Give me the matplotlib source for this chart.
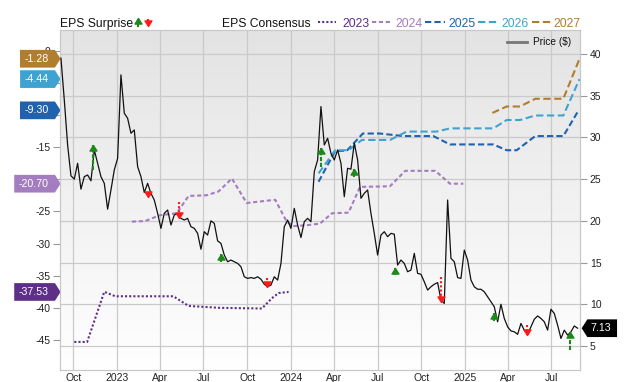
import numpy as np
import pandas as pd
import matplotlib
matplotlib.use('Agg')
import matplotlib.pyplot as plt
import matplotlib.dates as mdates
from matplotlib.path import Path
from matplotlib.lines import Line2D
from matplotlib.colors import LinearSegmentedColormap

plt.rcParams['font.family'] = ['Liberation Sans', 'DejaVu Sans']
plt.rcParams['axes.unicode_minus'] = False

# weekly close price ($)
price_start = '2022-09-05'
price = [39.5, 34.5, 29.1, 25.4, 25.0, 26.9, 23.8, 25.3, 25.5, 24.8,
         28.5, 26.9, 25.3, 24.5, 21.4, 23.7, 26.1, 27.5, 37.5, 32.9,
         32.3, 30.5, 30.9, 26.5, 25.3, 23.4, 24.5, 23.3, 22.5, 20.9,
         19.1, 20.9, 21.3, 19.5, 20.7, 20.9, 20.3, 20.1, 20.3, 19.3,
         19.1, 18.5, 16.6, 18.7, 18.3, 20.0, 19.7, 17.6, 17.3, 15.9,
         15.1, 15.3, 15.1, 14.9, 14.5, 13.3, 13.1, 13.2, 13.1, 13.3,
         13.0, 12.4, 12.1, 12.3, 13.3, 12.9, 14.9, 19.3, 20.1, 19.1,
         21.5, 19.5, 18.0, 19.9, 20.3, 19.9, 25.9, 27.3, 33.7, 29.1,
         29.9, 28.1, 27.3, 28.5, 26.9, 22.9, 26.3, 26.2, 29.3, 27.3,
         22.7, 23.3, 23.7, 20.9, 18.5, 15.9, 18.3, 18.7, 18.1, 18.5,
         18.4, 14.7, 15.3, 14.9, 13.9, 14.1, 16.1, 13.7, 13.6, 12.7,
         11.7, 12.1, 12.4, 12.6, 10.5, 10.1, 22.5, 15.5, 15.1, 13.2,
         13.1, 16.5, 15.3, 12.9, 12.1, 11.8, 11.8, 11.5, 10.9, 10.3,
         9.7, 7.9, 10.0, 8.3, 7.3, 6.8, 6.7, 6.4, 7.7, 6.9,
         6.4, 7.3, 8.2, 8.6, 8.3, 7.9, 6.9, 9.4, 8.9, 7.5,
         5.9, 6.9, 6.3, 6.7, 7.4, 7.13]
price_dates = pd.date_range(price_start, periods=len(price), freq='7D')

# EPS consensus by fiscal year
c2023_dates = ['2022-10-03', '2022-10-30', '2022-12-05', '2022-12-28', '2023-04-29', '2023-05-31',
               '2023-08-05', '2023-11-01', '2023-11-22', '2023-12-06', '2023-12-27']
c2023 = [-45.3, -45.3, -37.5, -38.2, -38.2, -39.7, -40.0, -40.1, -38.5, -37.7, -37.53]

c2024_dates = ['2023-02-01', '2023-03-01', '2023-04-01', '2023-05-06', '2023-05-31', '2023-07-08',
               '2023-08-02', '2023-08-30', '2023-09-30', '2023-11-29', '2023-12-23', '2024-01-06',
               '2024-02-10', '2024-03-02', '2024-03-27', '2024-05-01', '2024-05-25', '2024-07-27',
               '2024-08-28', '2024-10-30', '2024-11-30', '2024-12-28']
c2024 = [-26.6, -26.5, -25.6, -25.3, -22.6, -22.5, -21.9, -19.9, -23.7, -23.2, -26.6, -27.3,
         -27.1, -26.9, -25.3, -25.2, -21.2, -21.1, -18.7, -18.7, -20.70, -20.70]

c2025_dates = ['2024-02-28', '2024-04-03', '2024-04-27', '2024-05-31', '2024-07-06', '2024-08-24',
               '2024-10-26', '2024-11-30', '2025-03-01', '2025-03-29', '2025-04-19', '2025-05-28',
               '2025-07-26', '2025-08-27']
c2025 = [-20.4, -15.6, -15.6, -12.9, -12.9, -13.3, -13.3, -14.6, -14.6, -15.5, -15.5, -13.3,
         -13.3, -9.30]

c2026_dates = ['2024-02-28', '2024-04-03', '2024-05-01', '2024-05-29', '2024-07-27', '2024-08-31',
               '2024-11-02', '2024-11-30', '2025-03-01', '2025-03-29', '2025-04-26', '2025-05-28',
               '2025-07-26', '2025-08-29']
c2026 = [-19.1, -15.5, -15.5, -13.9, -13.9, -12.6, -12.6, -12.1, -12.1, -10.8, -10.8, -10.1,
         -10.1, -4.44]

c2027_dates = ['2025-02-27', '2025-03-29', '2025-04-26', '2025-05-28', '2025-07-26', '2025-08-29']
c2027 = [-9.7, -8.7, -8.7, -7.5, -7.5, -1.28]

# EPS surprise arrows (on price scale)
beat_dates = ['2022-11-11', '2023-08-07', '2024-03-04', '2024-05-13', '2024-08-07', '2025-03-02', '2025-08-09']
beat_from = [26.1, 15.1, 26.5, 25.3, 13.5, 8.0, 4.5]
beat_to = [29.1, 16.0, 28.7, 26.2, 14.4, 9.0, 6.7]
miss_dates = ['2023-03-06', '2023-05-11', '2023-11-12', '2024-11-11', '2025-05-11']
miss_from = [23.3, 22.3, 13.1, 13.3, 7.5]
miss_to = [22.8, 20.4, 12.1, 10.3, 6.3]

years = ['2023', '2024', '2025', '2026', '2027']
colors = ['#5e2f86', '#a47cc0', '#2062ad', '#3fa3d1', '#b17d2f']
styles = [(0, (1, 1)), (0, (2, 1.3)), (0, (3, 1.5)), (0, (3.5, 1.7)), (0, (3.5, 1.7))]
series = [(c2023_dates, c2023), (c2024_dates, c2024), (c2025_dates, c2025),
          (c2026_dates, c2026), (c2027_dates, c2027)]

green = '#1b8a1b'
red = '#ff1a1a'
up_head = Path([(0, 0), (-1, -1.6), (1, -1.6), (0, 0)], closed=True)
down_head = Path([(0, 0), (-1, 1.6), (1, 1.6), (0, 0)], closed=True)


def tag(point_right, near, far):
    def box(x0, y0, width, height, mutation_size):
        v = 0.36 * mutation_size
        b, t = y0 - v, y0 + height + v
        tip = 0.32 * (t - b)
        if point_right:
            l, r = x0 - far * mutation_size, x0 + width + near * mutation_size
            pts = [(l, b), (r, b), (r + tip, (b + t) / 2), (r, t), (l, t), (l, b)]
        else:
            l, r = x0 - near * mutation_size, x0 + width + far * mutation_size
            pts = [(r, b), (l, b), (l - tip, (b + t) / 2), (l, t), (r, t), (r, b)]
        return Path(pts, closed=True)
    return box


W, H = 640, 382
fig = plt.figure(figsize=(W / 100, H / 100), dpi=100)
ax = fig.add_axes([60 / W, 12 / H, 520 / W, 340 / H])
axp = ax.twinx()

bg = LinearSegmentedColormap.from_list('bg', ['#ffffff', '#e3e3e3'])
ax.imshow(np.linspace(1, 0, 256).reshape(-1, 1), extent=[0, 1, 0, 1], transform=ax.transAxes,
          aspect='auto', cmap=bg, vmin=0, vmax=1, zorder=0)

ax.set_xlim(pd.Timestamp('2022-09-03'), pd.Timestamp('2025-08-30'))
ax.set_ylim(-49.66, 3.19)
axp.set_ylim(2.12, 42.88)

# grid: vertical at dates, horizontal at price ticks (drawn under everything)
ax.xaxis.set_major_locator(mdates.MonthLocator(bymonth=[1, 4, 7, 10]))
ax.xaxis.set_major_formatter(lambda v, pos: str(mdates.num2date(v).year)
                             if mdates.num2date(v).month == 1 else mdates.num2date(v).strftime('%b'))
ax.grid(axis='x', color='#cacaca', lw=0.9, zorder=0.5)
axp.set_yticks(range(5, 45, 5))
e0, e1 = ax.get_ylim()
p0, p1 = axp.get_ylim()
for p in axp.get_yticks():
    ax.axhline(e0 + (p - p0) / (p1 - p0) * (e1 - e0), color='#cacaca', lw=0.9, zorder=0.5)

ax.set_yticks(np.arange(-45, 1, 5))
ax.yaxis.set_major_formatter(lambda v, pos: f'{v:.0f}')

for a in (ax, axp):
    for s in a.spines.values():
        s.set_color('#c8c8c8')
    a.tick_params(axis='y', length=5, width=0.8, color='#999999', labelsize=7.5, pad=2, labelcolor='#222222')
ax.tick_params(axis='x', length=0, pad=2.5, labelsize=7.5, labelcolor='#222222')

# consensus lines
for (d, v), c, ls in zip(series, colors, styles):
    ax.plot(pd.to_datetime(d), v, color=c, lw=1.5, ls=ls, zorder=2)

# price
axp.plot(price_dates, price, color='#111111', lw=0.9, zorder=3)

# surprise arrows
for d, f, t in zip(pd.to_datetime(beat_dates), beat_from, beat_to):
    axp.plot([d, d], [f, t], color=green, lw=1.5, ls=(0, (2, 0.8)), zorder=4)
    axp.plot(d, t, marker=up_head, ms=8, color=green, mec=green, zorder=5)
for d, f, t in zip(pd.to_datetime(miss_dates), miss_from, miss_to):
    axp.plot([d, d], [f, t], color=red, lw=1.5, ls=(0, (1, 1)), zorder=4)
    axp.plot(d, t, marker=down_head, ms=8, color=red, mec=red, zorder=5)

# value tags
for (d, v), c in zip(series, colors):
    ax.text(-11.5 / 520, v[-1], f'{v[-1]:.2f}', transform=ax.get_yaxis_transform(),
            ha='right', va='center', fontsize=7.7, color='white', clip_on=False, zorder=10,
            bbox=dict(boxstyle=tag(True, 0.6, 0.4), fc=c, ec='none'))
axp.text(1 + 10 / 520, price[-1], f'{price[-1]:.2f}', transform=axp.get_yaxis_transform(),
         ha='left', va='center', fontsize=7.7, color='white', clip_on=False, zorder=10,
         bbox=dict(boxstyle=tag(False, 0.25, 0.6), fc='black', ec='none'))

# legend
fy = lambda y: 1 - y / H
fig.text(60 / W, fy(27.3), 'EPS Surprise', fontsize=8.7, va='baseline', color='#111111')
fig.add_artist(Line2D([137.5 / W] * 2, [fy(25.5), fy(20)], color=green, lw=1.5))
fig.add_artist(Line2D([137.5 / W], [fy(18.3)], marker=up_head, ms=8, color=green))
fig.add_artist(Line2D([148 / W] * 2, [fy(19), fy(24)], color=red, lw=1.5, ls=(0, (1, 1))))
fig.add_artist(Line2D([148 / W], [fy(26.3)], marker=down_head, ms=8, color=red))
fig.text(221.7 / W, fy(27.3), 'EPS Consensus', fontsize=8.7, va='baseline', color='#111111')
leg_x = [(318, 336, 342), (372, 392, 395), (425, 445, 448.3), (478, 497, 501), (532, 551, 553.3)]
for (a, b, tx), c, ls, yr in zip(leg_x, colors, styles, years):
    fig.add_artist(Line2D([a / W, b / W], [fy(22.3)] * 2, color=c, lw=1.5, ls=ls))
    fig.text(tx / W, fy(27.3), yr, fontsize=8.7, va='baseline', color=c)
fig.add_artist(Line2D([507 / W, 527 / W], [fy(41.7)] * 2, color='#777777', lw=2))
fig.text(532.7 / W, fy(45), 'Price ($)', fontsize=7.3, va='baseline', color='#111111')

fig.savefig('out.png', dpi=100)
